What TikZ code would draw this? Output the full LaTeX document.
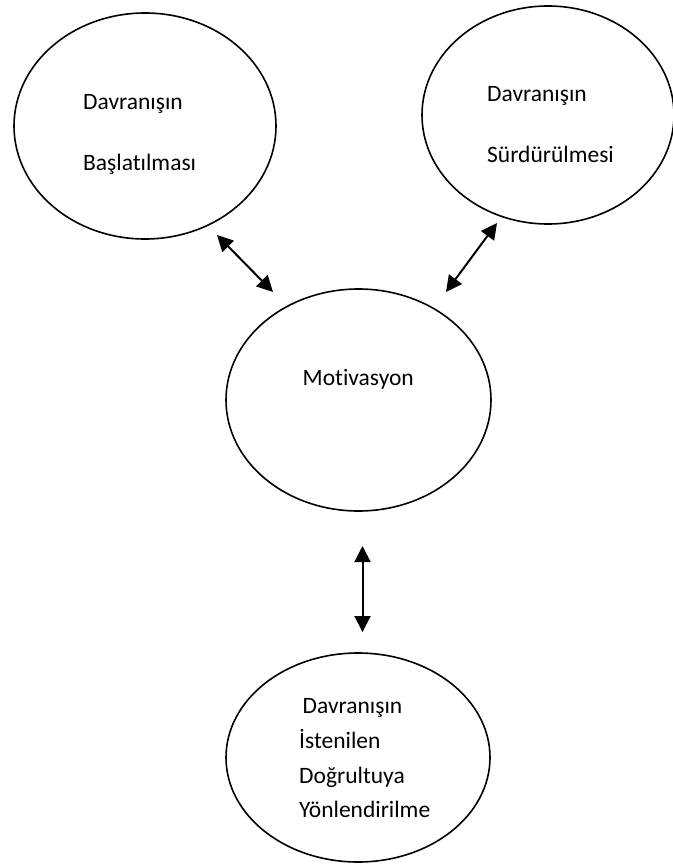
\documentclass[tikz,border=0pt]{standalone}
\usepackage{fontspec}
\setmainfont{Carlito}[Ligatures=NoCommon]
\usetikzlibrary{shapes.geometric,arrows.meta}

\tikzset{
  bubble/.style={draw, ellipse, line width=1.6pt, inner sep=0pt, outer sep=0pt},
  txt/.style={anchor=base west, inner sep=0pt, font=\fontsize{23.5pt}{28pt}\selectfont},
  twoway/.style={line width=2pt,
    {Triangle[length=16pt,width=16pt]}-{Triangle[length=16pt,width=16pt]}}
}

\begin{document}
\begin{tikzpicture}[x=1pt,y=-1pt]
  \useasboundingbox (0,0) rectangle (672,864);

  % the four ellipses
  \node[bubble, minimum width=262pt, minimum height=226pt] (start) at (145,126) {};
  \node[bubble, minimum width=252pt, minimum height=218pt] (keep)  at (548,115) {};
  \node[bubble, minimum width=265pt, minimum height=222pt] (motiv) at (358.5,400) {};
  \node[bubble, minimum width=264pt, minimum height=209pt] (dir)   at (358,757.5) {};

  % labels inside the ellipses
  \node[txt] (s1) at (83,110) {Davranışın};
  \node[txt] (s2) at (83,170) {Başlatılması};
  \node[txt] (k1) at (487,102) {Davranışın};
  \node[txt] (k2) at (487,162) {Sürdürülmesi};
  \node[txt] (m1) at (302.5,385) {Motivasyon};
  \node[txt] (d1) at (302.5,713) {Davranışın};
  \node[txt] (d2) at (299,748) {İstenilen};
  \node[txt] (d3) at (299,783) {Doğrultuya};
  \node[txt] (d4) at (299,817) {Yönlendirilme};

  % free-standing ends of the double arrows
  \coordinate (a1) at (217,235);
  \coordinate (a2) at (273,292);
  \coordinate (b1) at (497,223);
  \coordinate (b2) at (446,292);
  \coordinate (c1) at (362.5,546);
  \coordinate (c2) at (362.5,632);

  \draw[twoway] (a1) -- (a2);
  \draw[twoway] (b1) -- (b2);
  \draw[twoway] (c1) -- (c2);
\end{tikzpicture}
\end{document}
